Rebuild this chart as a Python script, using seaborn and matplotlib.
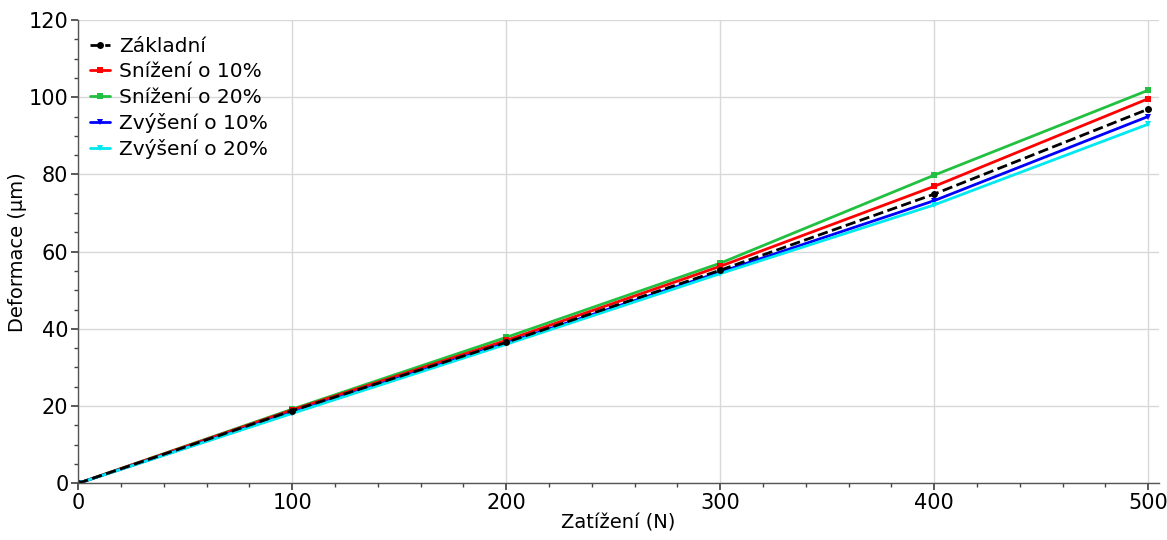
import pandas as pd
import seaborn as sns
import matplotlib.pyplot as plt
from matplotlib.ticker import MultipleLocator

# Load values
load = [0, 100, 200, 300, 400, 500]
zakladni = [0, 18.8, 36.5, 55.2, 74.9, 96.9]
snizeni_10 = [0, 19.0, 37.0, 56.2, 76.9, 99.6]
snizeni_20 = [0, 19.2, 37.8, 57.0, 79.8, 101.8]
zvyseni_10 = [0, 18.3, 36.3, 54.7, 73.2, 95.0]
zvyseni_20 = [0, 18.1, 36.0, 54.3, 72.1, 93.0]

series_names = ['Základní', 'Snížení o 10%', 'Snížení o 20%', 'Zvýšení o 10%', 'Zvýšení o 20%']
series_values = [zakladni, snizeni_10, snizeni_20, zvyseni_10, zvyseni_20]
colors = ['black', '#ff0000', '#22c040', '#0000ff', '#00e8f0']
markers = ['o', 's', 's', 'v', 'v']
styles = ['--', '-', '-', '-', '-']

# Long form table for seaborn
rows = []
for name, vals in zip(series_names, series_values):
    for x, y in zip(load, vals):
        rows.append({'Zatížení': x, 'Deformace': y, 'Serie': name})
data = pd.DataFrame(rows)

sns.set_theme(style="white")
plt.rcParams['font.family'] = ['DejaVu Sans']

fig, ax = plt.subplots(figsize=(11.67, 5.4), dpi=100)

# draw the later series first so the baseline sits on top
order = [2, 1, 3, 4, 0]
for i in order:
    sub = data[data['Serie'] == series_names[i]]
    sns.lineplot(data=sub, x='Zatížení', y='Deformace', ax=ax, color=colors[i],
                 marker=markers[i], markersize=5, markeredgewidth=0,
                 linestyle=styles[i], linewidth=2, label=series_names[i])

# legend in original order
handles, labels = ax.get_legend_handles_labels()
lookup = dict(zip(labels, handles))
leg = ax.legend([lookup[n] for n in series_names], series_names, loc='upper left',
                frameon=False, fontsize=14.5, handlelength=1.0, borderaxespad=0.2,
                labelspacing=0.32, handletextpad=0.45, bbox_to_anchor=(0.0, 0.99))
for t in leg.get_texts():
    t.set_color('black')

ax.set_xlim(0, 505)
ax.set_ylim(0, 120)
ax.xaxis.set_major_locator(MultipleLocator(100))
ax.xaxis.set_minor_locator(MultipleLocator(20))
ax.yaxis.set_major_locator(MultipleLocator(20))
ax.yaxis.set_minor_locator(MultipleLocator(5))
ax.tick_params(which='both', direction='out', bottom=True, left=True, colors='#444444',
               labelcolor='black', labelsize=15)
ax.tick_params(which='major', length=5, pad=2)
ax.tick_params(which='minor', length=3)
ax.grid(True, which='major', color='#d8d8d8', linewidth=1)

for side in ['top', 'right']:
    ax.spines[side].set_visible(False)
for side in ['left', 'bottom']:
    ax.spines[side].set_color('#555555')
    ax.spines[side].set_linewidth(1)

ax.set_xlabel('Zatížení (N)', fontsize=14, labelpad=0, color='black')
ax.set_ylabel('Deformace (µm)', fontsize=14, labelpad=1, color='black')

plt.subplots_adjust(left=0.067, right=0.993, top=0.963, bottom=0.105)
plt.savefig('out.png')
